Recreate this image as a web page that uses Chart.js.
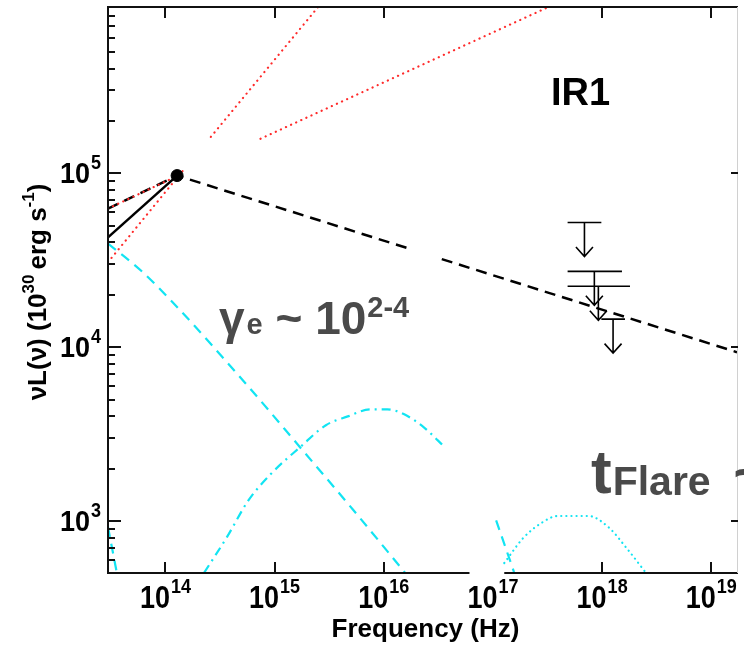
<!DOCTYPE html>
<html>
<head>
<meta charset="utf-8">
<title>IR1 SED</title>
<script src="https://cdn.jsdelivr.net/npm/chart.js@4"></script>
<style>
  body { margin: 0; background: #fff; }
  #wrap { width: 744px; height: 648px; }
</style>
</head>
<body>
<div id="wrap"><canvas id="sed" width="744" height="648"></canvas></div>
<script>
// axis ranges: frequency in Hz, nuL(nu) in 10^30 erg/s
const FREQ_MIN = 2.98e13, FREQ_MAX = 1.72e19;
const LUM_MIN = 503, LUM_MAX = 9.04e5;
const xTickDecades = [14, 15, 16, 17, 18, 19];
const yTickDecades = [3, 4, 5];
const xAxisBreak = [6.1e16, 1.27e17];

// IR detection
const irFreq = [1.28e14];
const irLum = [9.70e4];

// broken power law through the IR point (short break near 2.5e16)
const plFreq = [2.98e13, 1.28e14, 1.82e16, 2.5e16, 3.4e16, 1.72e19];
const plLum = [6.27e4, 9.70e4, 3.64e4, null, 3.21e4, 9.36e3];

// steep IR slope
const solidFreq = [2.98e13, 1.28e14];
const solidLum = [4.28e4, 9.70e4];

// synchrotron slope bounds (red dotted)
const redAFreq = [2.98e13, 1.49e14, 2.0e14, 2.61e14, 2.6e15];
const redALum = [3.08e4, 1.06e5, null, 1.62e5, 9.3e5];
const redBFreq = [2.98e13, 1.45e14, 3.0e14, 7.43e14, 3.3e17];
const redBLum = [6.27e4, 1.0e5, null, 1.58e5, 9.1e5];

// model components (cyan)
const cyDashFreq = [2.98e13, 6.0e13, 1.13e14, 5.43e14, 1.71e15, 5.19e15, 1.57e16];
const cyDashLum = [3.94e4, 2.75e4, 1.85e4, 6.19e3, 2.66e3, 1.17e3, 504];
const cyEdgeFreq = [2.98e13, 3.59e13];
const cyEdgeLum = [924, 504];
const cyHxFreq = [1.07e17, 1.56e17];
const cyHxLum = [1010, 509];
const cyDashDotFreq = [2.26e14, 3.66e14, 5.78e14, 9.35e14, 1.71e15, 2.95e15, 4.68e15, 7.55e15, 1.08e16, 1.54e16, 2.33e16, 3.62e16];
const cyDashDotLum = [504, 809, 1320, 1880, 2660, 3560, 4000, 4390, 4390, 4110, 3460, 2660];
const cyDotFreq = [1.27e17, 1.89e17, 2.86e17, 3.92e17, 7.50e17, 1.14e18, 1.73e18, 2.52e18];
const cyDotLum = [574, 798, 987, 1070, 1070, 924, 682, 504];

// X-ray upper limits
const ulFreq = [6.89e17, 8.49e17, 9.24e17, 1.26e18];
const ulFreqLo = [4.83e17, 4.83e17, 4.83e17, 9.84e17];
const ulFreqHi = [9.84e17, 1.52e18, 1.80e18, 1.62e18];
const ulLum = [5.21e4, 2.73e4, 2.24e4, 1.45e4];

const CYAN = '#12e4f2';
const RED = '#ff2a2a';
const GRAY = '#4a4a4a';
const FONT = '"Liberation Sans", Arial, sans-serif';

function pts(xs, ys) {
    return xs.map((x, i) => ({ x: x, y: ys[i] }));
}

function line(xs, ys, color, width, dash, extra) {
    return Object.assign({
        data: pts(xs, ys),
        borderColor: color,
        borderWidth: width,
        borderDash: dash,
        pointRadius: 0,
        fill: false,
        tension: 0
    }, extra || {});
}

const dotted = { borderCapStyle: 'round' };
const smooth = { cubicInterpolationMode: 'monotone' };

// draws runs of text left to right, each with its own size and raise
function drawRuns(ctx, x, y, runs, color) {
    ctx.fillStyle = color;
    ctx.textBaseline = 'alphabetic';
    ctx.textAlign = 'left';
    let cx = x;
    runs.forEach(r => {
        ctx.font = 'bold ' + r.size + 'px ' + FONT;
        ctx.fillText(r.text, cx, y + (r.dy || 0));
        cx += ctx.measureText(r.text).width + (r.gap || 0);
    });
    return cx - x;
}

function runsWidth(ctx, runs) {
    let w = 0;
    runs.forEach(r => {
        ctx.font = 'bold ' + r.size + 'px ' + FONT;
        w += ctx.measureText(r.text).width + (r.gap || 0);
    });
    return w;
}

function powRuns(exp) {
    return [{ text: '10', size: 27, gap: 1 }, { text: String(exp), size: 18, dy: -13 }];
}

const frame = {
    id: 'frame',
    afterDraw(chart) {
        const ctx = chart.ctx;
        const a = chart.chartArea;
        const xs = chart.scales.x, ys = chart.scales.y;
        ctx.save();
        ctx.strokeStyle = '#111';
        ctx.lineWidth = 2;
        ctx.lineCap = 'butt';

        // box: left, top, bottom with break
        const b0 = xs.getPixelForValue(xAxisBreak[0]);
        const b1 = xs.getPixelForValue(xAxisBreak[1]);
        ctx.beginPath();
        ctx.moveTo(a.left, a.top); ctx.lineTo(a.left, a.bottom);
        ctx.moveTo(a.left - 1, a.top); ctx.lineTo(a.right + 1, a.top);
        ctx.moveTo(a.left - 1, a.bottom); ctx.lineTo(b0, a.bottom);
        ctx.moveTo(b1, a.bottom); ctx.lineTo(a.right + 1, a.bottom);
        ctx.stroke();

        // clipped right-hand axis
        ctx.strokeStyle = '#d0d0d0';
        ctx.lineWidth = 1;
        ctx.beginPath();
        ctx.moveTo(a.right + 0.5, a.top); ctx.lineTo(a.right + 0.5, a.bottom);
        ctx.stroke();

        // x ticks top and bottom, decades only
        ctx.strokeStyle = '#111';
        ctx.lineWidth = 2;
        ctx.beginPath();
        xTickDecades.forEach(d => {
            const v = Math.pow(10, d);
            const px = Math.round(xs.getPixelForValue(v));
            if (v > xAxisBreak[0] && v < xAxisBreak[1]) return;
            ctx.moveTo(px, a.bottom); ctx.lineTo(px, a.bottom - 11);
            ctx.moveTo(px, a.top); ctx.lineTo(px, a.top + 11);
        });
        // y ticks, majors and minors on the left, majors on the right
        for (let d = 2; d <= 5; d++) {
            for (let m = 1; m <= 9; m++) {
                const v = m * Math.pow(10, d);
                if (v < LUM_MIN || v > LUM_MAX) continue;
                const py = Math.round(ys.getPixelForValue(v));
                const len = m === 1 ? 13 : 7;
                ctx.moveTo(a.left, py); ctx.lineTo(a.left + len, py);
                if (m === 1) { ctx.moveTo(a.right + 1, py); ctx.lineTo(a.right - 6, py); }
            }
        }
        ctx.stroke();

        // x tick labels
        xTickDecades.forEach(d => {
            const px = xs.getPixelForValue(Math.pow(10, d));
            const runs = powRuns(d);
            const w = runsWidth(ctx, runs);
            ctx.save();
            ctx.translate(px, a.bottom + 35);
            ctx.scale(1, 1.15);
            drawRuns(ctx, -w / 2, 0, runs, '#000');
            ctx.restore();
        });

        // y tick labels, right aligned
        yTickDecades.forEach(d => {
            const py = ys.getPixelForValue(Math.pow(10, d));
            const runs = powRuns(d);
            const w = runsWidth(ctx, runs);
            ctx.save();
            ctx.translate(a.left - 7 - w, py + 10);
            ctx.scale(1, 1.1);
            drawRuns(ctx, 0, 0, runs, '#000');
            ctx.restore();
        });

        // axis titles
        ctx.font = 'bold 26px ' + FONT;
        ctx.fillStyle = '#000';
        ctx.textAlign = 'center';
        ctx.fillText('Frequency (Hz)', (a.left + a.right) / 2 + 3, a.bottom + 64);

        const yRuns = [
            { text: 'νL(ν) (10', size: 26 },
            { text: '30', size: 17, dy: -12, gap: 5 },
            { text: 'erg s', size: 26 },
            { text: '-1', size: 17, dy: -12 },
            { text: ')', size: 26 }
        ];
        const yw = runsWidth(ctx, yRuns);
        ctx.save();
        ctx.translate(46, (a.top + a.bottom) / 2 + 2);
        ctx.rotate(-Math.PI / 2);
        drawRuns(ctx, -yw / 2, 0, yRuns, '#000');
        ctx.restore();

        ctx.restore();
    }
};

// upper limits: frequency bar with a downward arrow
const upperLimits = {
    id: 'upperLimits',
    afterDatasetsDraw(chart) {
        const ctx = chart.ctx;
        const xs = chart.scales.x, ys = chart.scales.y;
        ctx.save();
        ctx.strokeStyle = '#000';
        ctx.lineWidth = 1.6;
        ulFreq.forEach((f, i) => {
            const px = xs.getPixelForValue(f);
            const py = ys.getPixelForValue(ulLum[i]);
            const lo = xs.getPixelForValue(ulFreqLo[i]);
            const hi = xs.getPixelForValue(ulFreqHi[i]);
            const tip = py + 34;
            ctx.beginPath();
            ctx.moveTo(lo, py); ctx.lineTo(hi, py);
            ctx.moveTo(px, py); ctx.lineTo(px, tip);
            ctx.moveTo(px - 8.5, tip - 9.5); ctx.lineTo(px, tip); ctx.lineTo(px + 8.5, tip - 9.5);
            ctx.stroke();
        });
        ctx.restore();
    }
};

// panel annotations
const labels = {
    id: 'labels',
    afterDraw(chart) {
        const ctx = chart.ctx;
        ctx.save();
        ctx.font = 'bold 38px ' + FONT;
        ctx.fillStyle = '#000';
        ctx.textAlign = 'left';
        ctx.fillText('IR1', 551, 105);

        drawRuns(ctx, 219, 334, [
            { text: 'γ', size: 46, gap: 2 },
            { text: 'e', size: 29, gap: 0 },
            { text: ' ~ 10', size: 46, gap: 1 },
            { text: '2-4', size: 29, dy: -17 }
        ], GRAY);

        ctx.save();
        ctx.translate(591, 493);
        drawRuns(ctx, 0, 0, [
            { text: 't', size: 62, gap: 1 },
            { text: 'Flare', size: 41, dy: 2, gap: 6 },
            { text: ' ~', size: 60 }
        ], GRAY);
        ctx.restore();
        ctx.restore();
    }
};

new Chart(document.getElementById('sed').getContext('2d'), {
    type: 'line',
    data: {
        datasets: [
            { data: pts(irFreq, irLum), showLine: false, pointRadius: 6, pointBackgroundColor: '#000', pointBorderColor: '#000', borderColor: '#000' },
            line(redAFreq, redALum, RED, 2.2, [0.1, 5.5], dotted),
            line(redBFreq, redBLum, RED, 2.2, [0.1, 5.5], dotted),
            line(plFreq, plLum, '#000', 2.5, [11, 7]),
            line(solidFreq, solidLum, '#000', 2.5, []),
            line(cyDashFreq, cyDashLum, CYAN, 2.2, [10, 7], smooth),
            line(cyEdgeFreq, cyEdgeLum, CYAN, 2.2, [10, 7]),
            line(cyHxFreq, cyHxLum, CYAN, 2.2, [10, 7]),
            line(cyDashDotFreq, cyDashDotLum, CYAN, 2.2, [9, 5, 2, 5], smooth),
            line(cyDotFreq, cyDotLum, CYAN, 2.2, [0.1, 5], Object.assign({}, dotted, smooth))
        ]
    },
    options: {
        responsive: false,
        animation: false,
        events: [],
        layout: { padding: { left: 108, top: 6, right: 1, bottom: 75 } },
        scales: {
            x: { type: 'logarithmic', min: FREQ_MIN, max: FREQ_MAX, display: false },
            y: { type: 'logarithmic', min: LUM_MIN, max: LUM_MAX, display: false }
        },
        plugins: { legend: { display: false }, tooltip: { enabled: false } }
    },
    plugins: [upperLimits, frame, labels]
});
</script>
</body>
</html>
